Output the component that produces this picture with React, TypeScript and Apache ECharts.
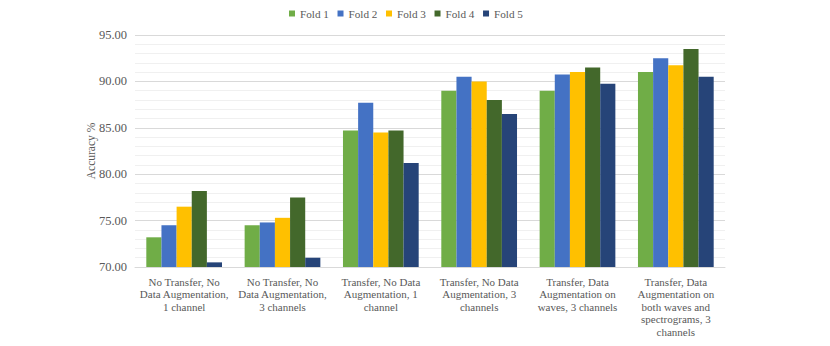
import React, { useEffect, useRef } from "react";
import * as echarts from "echarts";

const categories = [
  "No Transfer, No\nData Augmentation,\n1 channel",
  "No Transfer, No\nData Augmentation,\n3 channels",
  "Transfer, No Data\nAugmentation, 1\nchannel",
  "Transfer, No Data\nAugmentation, 3\nchannels",
  "Transfer, Data\nAugmentation on\nwaves, 3 channels",
  "Transfer, Data\nAugmentation on\nboth waves and\nspectrograms, 3\nchannels",
];

const seriesNames = ["Fold 1", "Fold 2", "Fold 3", "Fold 4", "Fold 5"];
const fold1 = [73.2, 74.5, 84.7, 89.0, 89.0, 91.0];
const fold2 = [74.5, 74.8, 87.7, 90.5, 90.75, 92.5];
const fold3 = [76.5, 75.3, 84.5, 90.0, 91.0, 91.75];
const fold4 = [78.2, 77.5, 84.7, 88.0, 91.5, 93.5];
const fold5 = [70.5, 71.0, 81.2, 86.5, 89.75, 90.5];
const colors = ["#70AD47", "#4472C4", "#FFC000", "#43682B", "#264478"];

const FONT = "Times New Roman";

export default function App() {
  const ref = useRef<HTMLDivElement>(null);
  useEffect(() => {
    if (!ref.current) return;
    const chart = echarts.init(ref.current, undefined, { renderer: "svg" });
    const data = [fold1, fold2, fold3, fold4, fold5];
    chart.setOption({
      animation: false,
      color: colors,
      textStyle: { fontFamily: FONT, color: "#595959" },
      legend: {
        top: 8,
        left: 289,
        padding: 0,
        itemWidth: 6,
        itemHeight: 6,
        itemGap: 8.6,
        icon: "rect",
        textStyle: { fontFamily: FONT, fontSize: 11.2, color: "#595959" },
        data: seriesNames,
      },
      grid: { left: 135, right: 105, top: 35, bottom: 79, containLabel: false },
      xAxis: {
        type: "category",
        data: categories,
        axisTick: { show: false },
        axisLine: { lineStyle: { color: "#d9d9d9" } },
        axisLabel: {
          fontFamily: FONT,
          fontSize: 11,
          color: "#595959",
          lineHeight: 12.5,
          margin: 8.5,
          interval: 0,
        },
      },
      yAxis: {
        type: "value",
        min: 70,
        max: 95,
        interval: 5,
        name: "Accuracy %",
        nameLocation: "middle",
        nameGap: 38,
        nameMoveOverlap: false,
        nameRotate: 90,
        nameTextStyle: { fontFamily: FONT, fontSize: 11.5, color: "#595959" },
        axisLine: { show: false },
        axisTick: { show: false },
        axisLabel: {
          fontFamily: FONT,
          fontSize: 12.5,
          color: "#595959",
          margin: 8,
          formatter: (v: number) => v.toFixed(2),
        },
        splitLine: { lineStyle: { color: "#d9d9d9", width: 1 } },
        minorTick: { show: false, splitNumber: 5 },
        minorSplitLine: { show: true, lineStyle: { color: "#f0f0f0", width: 1 } },
      },
      series: seriesNames.map((name, i) => ({
        name,
        type: "bar",
        data: data[i],
        barGap: "0%",
        barCategoryGap: "23%",
        itemStyle: { color: colors[i] },
      })),
    });
    return () => chart.dispose();
  }, []);
  return (
    <div
      ref={ref}
      style={{ position: "absolute", left: 0, top: 0, width: 830, height: 346 }}
    />
  );
}
